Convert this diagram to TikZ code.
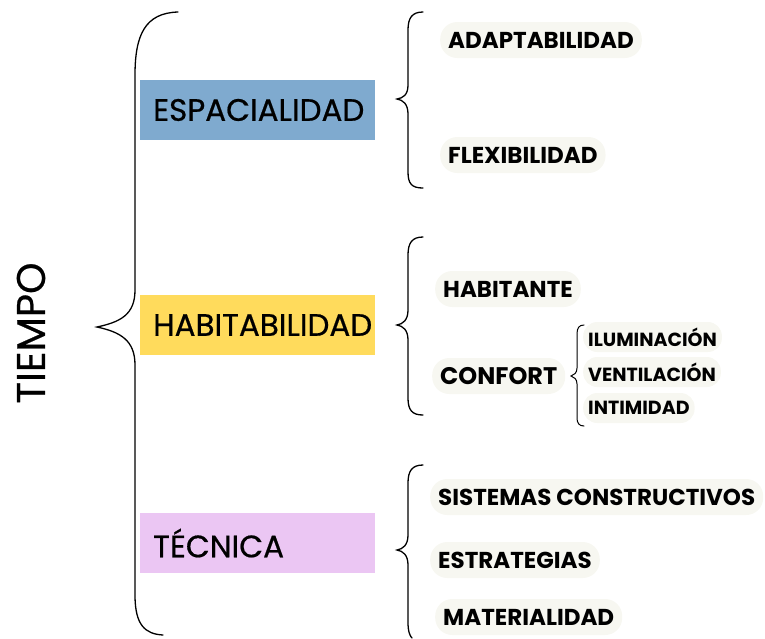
\documentclass[tikz,border=0pt]{standalone}
\usepackage{fontspec}
\setmainfont{Poppins}
\newfontfamily\labfont{Poppins}
\newfontfamily\medfont[FakeBold=0.6]{Poppins}
\definecolor{bluebox}{HTML}{7FAACF}
\definecolor{yellowbox}{HTML}{FFDB5C}
\definecolor{purplebox}{HTML}{EBC6F3}
\definecolor{pill}{HTML}{F7F7F1}
\tikzset{
  mainbox/.style={anchor=west, minimum width=235pt, minimum height=60pt, inner sep=0pt},
  maintext/.style={anchor=west, inner sep=0pt, font=\medfont\fontsize{31}{33}\selectfont},
  pilllab/.style={anchor=west, fill=pill, rounded corners=17pt, minimum height=36pt, inner xsep=8pt, inner ysep=0pt, font=\labfont\bfseries\fontsize{23}{25}\selectfont},
  smalllab/.style={anchor=west, fill=pill, rounded corners=14pt, minimum height=30pt, inner xsep=5pt, inner ysep=0pt, font=\labfont\bfseries\fontsize{19}{21}\selectfont},
  bracepath/.style={draw=black, line width=1.3pt, line cap=round}
}
\begin{document}
\begin{tikzpicture}[x=1pt, y=-1pt]
\useasboundingbox (0,0) rectangle (765,638);
% TIEMPO
\node[rotate=90, font=\medfont\fontsize{40}{42}\selectfont] (tiempo) at (31,333) {TIEMPO};
% big brace
\draw[bracepath] (178,12) .. controls (145,13) and (135,35) .. (135,75) -- (135,290)
  .. controls (135,315) and (120,322) .. (97,327)
  .. controls (120,332) and (135,340) .. (135,365) -- (135,595)
  .. controls (135,625) and (145,634) .. (163,635);
% main boxes
\node[mainbox, fill=bluebox] (esp) at (140,110) {};
\node[maintext] (espt) at (153,110) {ESPACIALIDAD};
\node[mainbox, fill=yellowbox] (hab) at (140,325) {};
\node[maintext] (habt) at (153,325) {HABITABILIDAD};
\node[mainbox, fill=purplebox] (tec) at (140,543) {};
\node[maintext] (tect) at (153,543) {TÉCNICA};
% right braces
\draw[bracepath] (423,12) .. controls (412,12) and (408,18) .. (408,30) -- (408,85)
  .. controls (408,95) and (403,98) .. (397,99)
  .. controls (403,100) and (408,104) .. (408,114) -- (408,172)
  .. controls (408,184) and (412,188) .. (423,188);
\draw[bracepath] (423,237) .. controls (412,237) and (408,243) .. (408,255) -- (408,310)
  .. controls (408,320) and (403,324) .. (397,325)
  .. controls (403,326) and (408,330) .. (408,340) -- (408,398)
  .. controls (408,410) and (412,415) .. (423,415);
\draw[bracepath] (423,465) .. controls (412,465) and (408,471) .. (408,483) -- (408,535)
  .. controls (408,545) and (403,549) .. (397,550)
  .. controls (403,551) and (408,555) .. (408,565) -- (408,622)
  .. controls (408,632) and (410,636) .. (412,638);
% small brace
\draw[bracepath, line width=1pt] (584,325) .. controls (579,325) and (577,328) .. (577,334) -- (577,368)
  .. controls (577,373) and (574,375) .. (571,376)
  .. controls (574,377) and (577,379) .. (577,384) -- (577,418)
  .. controls (577,423) and (579,426) .. (584,426);
% labels
\node[pilllab] (adap) at (440,40) {ADAPTABILIDAD};
\node[pilllab] (flex) at (440,155) {FLEXIBILIDAD};
\node[pilllab] (habi) at (435,289) {HABITANTE};
\node[pilllab, font=\labfont\bfseries\fontsize{24}{26}\selectfont] (conf) at (432,376) {CONFORT};
\node[smalllab] (ilum) at (583,337) {ILUMINACIÓN};
\node[smalllab] (vent) at (583,372) {VENTILACIÓN};
\node[smalllab] (inti) at (583,408) {INTIMIDAD};
\node[pilllab] (sist) at (430,497) {SISTEMAS CONSTRUCTIVOS};
\node[pilllab] (estr) at (430,560) {ESTRATEGIAS};
\node[pilllab] (mate) at (435,617) {MATERIALIDAD};
\end{tikzpicture}
\end{document}
